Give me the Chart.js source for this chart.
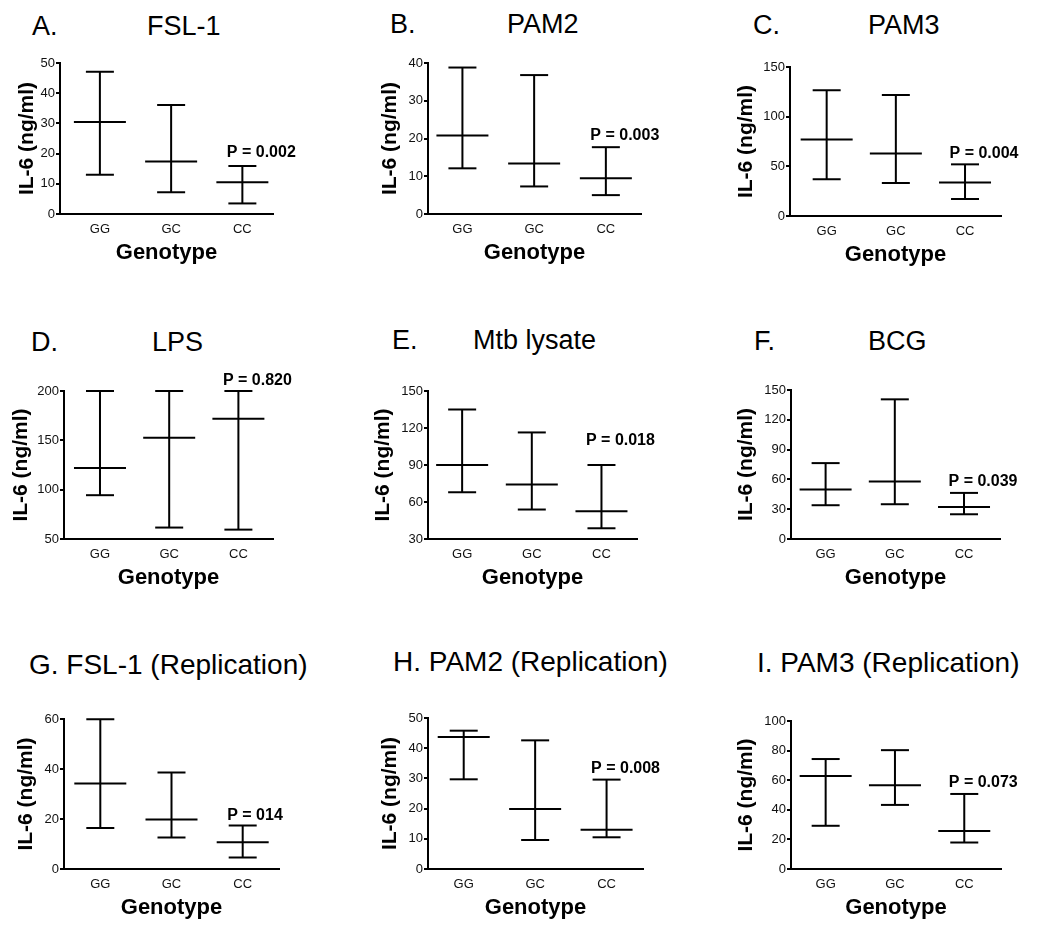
<!DOCTYPE html>
<html>
<head>
<meta charset="utf-8">
<script src="https://cdn.jsdelivr.net/npm/chart.js@4.4.1/dist/chart.umd.min.js"></script>
<style>
    body { margin: 0; background: #fff; width: 1042px; height: 933px; position: relative; overflow: hidden; font-family: "Liberation Sans", Arial, sans-serif; }
    .titre { position: absolute; color: #000; white-space: nowrap; line-height: 1; }
    .panneau { position: absolute; }
</style>
</head>
<body>
<script>
// ---------------------- DONNEES ---------------------- //
const genotypes = ['GG', 'GC', 'CC'];
const panelLetters = ['A.', 'B.', 'C.', 'D.', 'E.', 'F.', 'G.', 'H.', 'I.'];
const stimuli = ['FSL-1', 'PAM2', 'PAM3', 'LPS', 'Mtb lysate', 'BCG',
    'FSL-1 (Replication)', 'PAM2 (Replication)', 'PAM3 (Replication)'];

// IL-6 (ng/ml) : haut, médiane, bas pour GG, GC, CC
const upperValues = [
    [47.1, 36.1, 15.9],
    [38.8, 36.8, 17.7],
    [126.6, 121.8, 52],
    [200, 200, 200],
    [135, 116.4, 90],
    [76.4, 140.6, 46.4],
    [59.9, 38.6, 17.4],
    [45.8, 42.6, 29.6],
    [74.3, 80.3, 50.7]
];
const medianValues = [
    [30.5, 17.4, 10.5],
    [20.8, 13.4, 9.5],
    [76.9, 62.8, 33.6],
    [122, 152.5, 171.8],
    [90, 74.2, 52.5],
    [49.8, 57.9, 32.3],
    [34.2, 19.8, 10.7],
    [43.7, 19.9, 13.0],
    [62.8, 56.6, 25.6]
];
const lowerValues = [
    [13, 7.2, 3.5],
    [12.1, 7.3, 5.0],
    [37, 33.2, 17.1],
    [94.4, 61.6, 59.5],
    [67.9, 53.9, 38.7],
    [34, 35, 24.9],
    [16.4, 12.6, 4.6],
    [29.7, 9.6, 10.5],
    [29.2, 43.3, 17.9]
];

// graduations de l'axe Y
const yMin = [0, 0, 0, 50, 30, 0, 0, 0, 0];
const yMax = [50, 40, 150, 200, 150, 150, 60, 50, 100];
const yStep = [10, 10, 50, 50, 30, 30, 20, 10, 20];

const pLabels = ['P = 0.002', 'P = 0.003', 'P = 0.004', 'P = 0.820', 'P = 0.018',
    'P = 0.039', 'P = 014', 'P = 0.008', 'P = 0.073'];

// ---------------------- MISE EN PAGE ---------------------- //
const layout = [
    { x: 60, top: 63, bottom: 214, right: 287, xMin: 0.44, xMax: 3.43, titleGap: 33, pGap: 9, letterX: 32, nameX: 147, baseY: 36, fs: 27 },
    { x: 428, top: 63, bottom: 214, right: 655, xMin: 0.52, xMax: 3.49, titleGap: 38, pGap: 7, letterX: 390, nameX: 507, baseY: 34, fs: 27 },
    { x: 790, top: 67, bottom: 216, right: 1015, xMin: 0.47, xMax: 3.52, titleGap: 44, pGap: 6, letterX: 753, nameX: 868, baseY: 35, fs: 27 },
    { x: 64, top: 391, bottom: 539, right: 287, xMin: 0.48, xMax: 3.5, titleGap: 43, pGap: 6, letterX: 31, nameX: 152, baseY: 352, fs: 27 },
    { x: 428, top: 391, bottom: 539, right: 651, xMin: 0.51, xMax: 3.51, titleGap: 45, pGap: 20, letterX: 392, nameX: 473, baseY: 350, fs: 27 },
    { x: 791, top: 390, bottom: 539, right: 1014, xMin: 0.5, xMax: 3.52, titleGap: 45, pGap: 7, letterX: 754, nameX: 868, baseY: 351, fs: 27 },
    { x: 64, top: 719, bottom: 869, right: 293, xMin: 0.49, xMax: 3.51, titleGap: 38, pGap: 6, letterX: 29, nameX: null, baseY: 675, fs: 28 },
    { x: 428, top: 718, bottom: 869, right: 657, xMin: 0.5, xMax: 3.51, titleGap: 38, pGap: 7, letterX: 393, nameX: null, baseY: 672, fs: 28 },
    { x: 791, top: 721, bottom: 869, right: 1015, xMin: 0.5, xMax: 3.53, titleGap: 45, pGap: 7, letterX: 757, nameX: null, baseY: 673, fs: 28 }
];

const police = '"Liberation Sans", Arial, sans-serif';
Chart.defaults.font.family = police;

function ajouterTitre(texte, x, geo) {
    const t = document.createElement('div');
    t.className = 'titre';
    t.textContent = texte;
    t.style.left = x + 'px';
    t.style.top = (geo.baseY - 0.8465 * geo.fs) + 'px';
    t.style.fontSize = geo.fs + 'px';
    document.body.appendChild(t);
}

function dessinerPanneau(i) {
    const geo = layout[i];
    const padTop = 28, padRight = 14, largeurAxeY = 60, hauteurAxeX = 58;

    // titre du panneau
    if (geo.nameX) {
        ajouterTitre(panelLetters[i], geo.letterX, geo);
        ajouterTitre(stimuli[i], geo.nameX, geo);
    } else {
        ajouterTitre(panelLetters[i] + ' ' + stimuli[i], geo.letterX, geo);
    }

    const div = document.createElement('div');
    div.className = 'panneau';
    div.style.left = (geo.x - largeurAxeY) + 'px';
    div.style.top = (geo.top - padTop) + 'px';
    div.style.width = (geo.right - geo.x + largeurAxeY + padRight) + 'px';
    div.style.height = (geo.bottom - geo.top + padTop + hauteurAxeX) + 'px';
    const canvas = document.createElement('canvas');
    div.appendChild(canvas);
    document.body.appendChild(div);

    const moustaches = [];
    const bornes = [];
    const medianes = [];
    genotypes.forEach((g, k) => {
        moustaches.push({ x: k + 1, y: lowerValues[i][k] }, { x: k + 1, y: upperValues[i][k] }, { x: k + 1, y: null });
        bornes.push({ x: k + 1, y: lowerValues[i][k] }, { x: k + 1, y: upperValues[i][k] });
        medianes.push({ x: k + 1, y: medianValues[i][k] });
    });

    new Chart(canvas, {
        type: 'scatter',
        data: {
            datasets: [
                { data: moustaches, showLine: true, spanGaps: false, borderColor: '#000', borderWidth: 2, pointRadius: 0, clip: false },
                { data: bornes, pointStyle: 'line', pointRadius: 14, pointBorderColor: '#000', pointBorderWidth: 2, clip: false },
                { data: medianes, pointStyle: 'line', pointRadius: 26, pointBorderColor: '#000', pointBorderWidth: 2, clip: false }
            ]
        },
        options: {
            responsive: true,
            maintainAspectRatio: false,
            animation: false,
            events: [],
            layout: { padding: { top: padTop, right: padRight, left: 0, bottom: 0 } },
            plugins: { legend: { display: false }, tooltip: { enabled: false } },
            scales: {
                x: {
                    type: 'linear',
                    min: geo.xMin,
                    max: geo.xMax,
                    afterBuildTicks: s => { s.ticks = genotypes.map((g, k) => ({ value: k + 1 })); },
                    afterFit: s => { s.height = hauteurAxeX; },
                    grid: { display: false, drawTicks: true, tickLength: 5 },
                    border: { display: true, color: '#000', width: 2 },
                    ticks: {
                        padding: 3, color: '#111', font: { size: 13 }, maxRotation: 0, autoSkip: false,
                        callback: v => genotypes[Math.round(v) - 1] || ''
                    },
                    title: { display: true, text: 'Genotype', color: '#000', font: { size: 22, weight: 'bold' }, padding: { top: 0, bottom: 6 } }
                },
                y: {
                    min: yMin[i],
                    max: yMax[i],
                    afterFit: s => { s.width = largeurAxeY; },
                    grid: { drawOnChartArea: false, drawTicks: true, tickLength: 4, color: '#000', lineWidth: 2 },
                    border: { color: '#000', width: 2 },
                    ticks: { stepSize: yStep[i], padding: 1, color: '#111', font: { size: 13 } },
                    title: {
                        display: true, text: 'IL-6 (ng/ml)', color: '#000', font: { size: 21, weight: 'bold' },
                        padding: { top: largeurAxeY - geo.titleGap - 12.6, bottom: 0 }
                    }
                }
            }
        },
        plugins: [{
            id: 'pValeur',
            afterDatasetsDraw(chart) {
                const ctx = chart.ctx;
                const xs = chart.scales.x, ys = chart.scales.y;
                ctx.save();
                ctx.font = 'bold 16px ' + police;
                ctx.fillStyle = '#000';
                ctx.textAlign = 'left';
                ctx.textBaseline = 'alphabetic';
                ctx.fillText(pLabels[i], xs.getPixelForValue(3) - 15.5, ys.getPixelForValue(upperValues[i][2]) - geo.pGap);
                ctx.restore();
            }
        }]
    });
}

for (let i = 0; i < layout.length; i++) {
    dessinerPanneau(i);
}
</script>
</body>
</html>
